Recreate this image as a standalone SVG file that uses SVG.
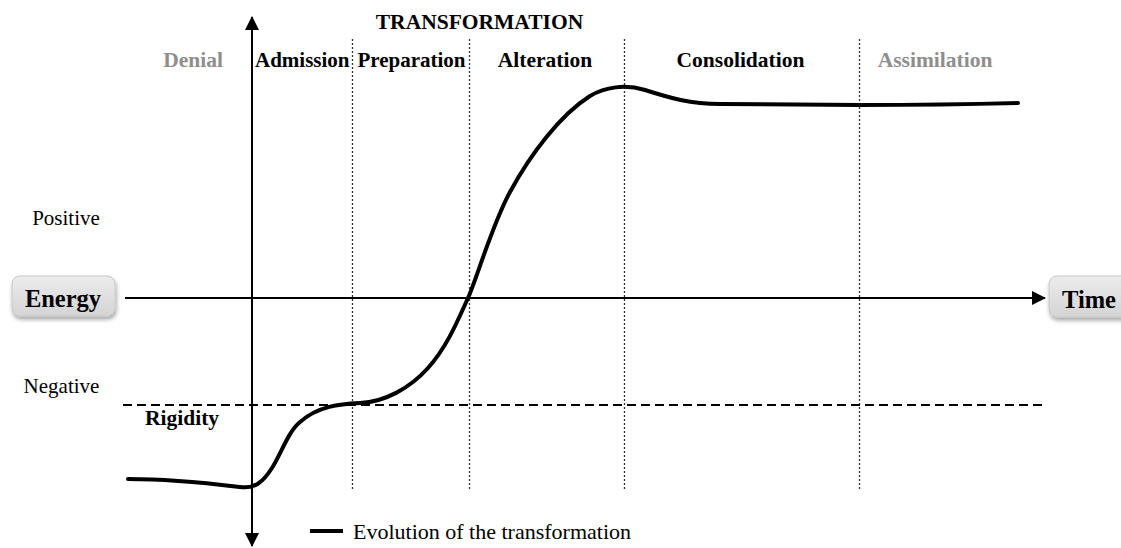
<svg xmlns="http://www.w3.org/2000/svg" width="1121" height="548" viewBox="0 0 1121 548">
  <defs>
    <linearGradient id="boxFill" x1="0" y1="0" x2="0" y2="1">
      <stop offset="0" stop-color="#ececec"/>
      <stop offset="1" stop-color="#d4d4d4"/>
    </linearGradient>
    <filter id="boxShadow" x="-20%" y="-30%" width="140%" height="170%">
      <feDropShadow dx="1" dy="3" stdDeviation="2" flood-color="#000" flood-opacity="0.35"/>
    </filter>
    <marker id="arrow" viewBox="0 0 14 14" refX="13" refY="7" markerWidth="14" markerHeight="14" markerUnits="userSpaceOnUse" orient="auto-start-reverse">
      <path d="M0,0 L14,7 L0,14 Z" fill="#000"/>
    </marker>
    <style>
      .lbl { font-family: "Liberation Serif", "Times New Roman", serif; font-size: 21px; fill: #000; }
      .bold { font-weight: bold; font-size: 21.5px; }
      .muted { fill: #8e8e8e; }
      .axis { stroke: #000; stroke-width: 2; fill: none; }
      .phase { stroke: #333; stroke-width: 1.3; stroke-dasharray: 2 2; fill: none; }
      .rigid { stroke: #000; stroke-width: 1.8; stroke-dasharray: 9 5; fill: none; }
      .curve { stroke: #000; stroke-width: 4; fill: none; stroke-linecap: round; stroke-linejoin: round; }
      .box { fill: url(#boxFill); stroke: #c8c8c8; stroke-width: 1; filter: url(#boxShadow); }
    </style>
  </defs>

  <rect width="1121" height="548" fill="#fff"/>

  <!-- phase separators, rigidity threshold, axes and the evolution curve -->
  <g id="connectors">
    <line class="phase" x1="352.5" y1="39" x2="352.5" y2="489"/>
    <line class="phase" x1="469.5" y1="39" x2="469.5" y2="489"/>
    <line class="phase" x1="624.5" y1="39" x2="624.5" y2="489"/>
    <line class="phase" x1="859.5" y1="39" x2="859.5" y2="489"/>
    <line class="rigid" x1="123" y1="405" x2="1046" y2="405"/>
    <!-- energy axis (vertical, double-headed) -->
    <line class="axis" x1="252" y1="17" x2="252" y2="546" marker-start="url(#arrow)" marker-end="url(#arrow)"/>
    <!-- time axis -->
    <line class="axis" x1="125" y1="298" x2="1045" y2="298" marker-end="url(#arrow)"/>
    <!-- evolution curve -->
    <path class="curve" d="M128,479 C175,479 215,484 240,487 C255,489 263,482 272,468 C282,452 288,432 300,422 C318,406 340,404 360,403 C385,402 410,388 428,368 C447,347 458,320 468,298 C477,278 492,225 510,192 C530,155 560,115 590,96 C605,87 625,84 645,90 C670,98 690,104 720,104 L860,105 C930,105 980,104 1018,103"/>
  </g>

  <g id="title">
    <text class="lbl bold" x="479.5" y="29" text-anchor="middle" font-size="22">TRANSFORMATION</text>
  </g>

  <g id="phase-labels">
    <text class="lbl bold muted" x="193" y="67" text-anchor="middle">Denial</text>
    <text class="lbl bold" x="255" y="67" style="font-size:21px">Admission</text>
    <text class="lbl bold" x="411.5" y="67" text-anchor="middle" style="font-size:21px">Preparation</text>
    <text class="lbl bold" x="545" y="67" text-anchor="middle">Alteration</text>
    <text class="lbl bold" x="740.5" y="67" text-anchor="middle">Consolidation</text>
    <text class="lbl bold muted" x="935" y="67" text-anchor="middle">Assimilation</text>
  </g>

  <g id="scale-labels">
    <text class="lbl" x="66" y="225" text-anchor="middle">Positive</text>
    <text class="lbl" x="61.5" y="393" text-anchor="middle">Negative</text>
    <text class="lbl bold" x="145" y="425">Rigidity</text>
  </g>

  <g id="energy-node">
    <rect class="box" x="12" y="276" width="103" height="40" rx="8"/>
    <text class="lbl bold" x="63" y="307" text-anchor="middle" style="font-size:24.5px">Energy</text>
  </g>

  <g id="time-node">
    <rect class="box" x="1049" y="276" width="85" height="41" rx="8"/>
    <text class="lbl bold" x="1062" y="308" style="font-size:24.5px">Time</text>
  </g>

  <g id="legend">
    <line x1="310" y1="531" x2="343" y2="531" stroke="#000" stroke-width="4"/>
    <text class="lbl" x="353" y="539" style="font-size:22px">Evolution of the transformation</text>
  </g>
</svg>
